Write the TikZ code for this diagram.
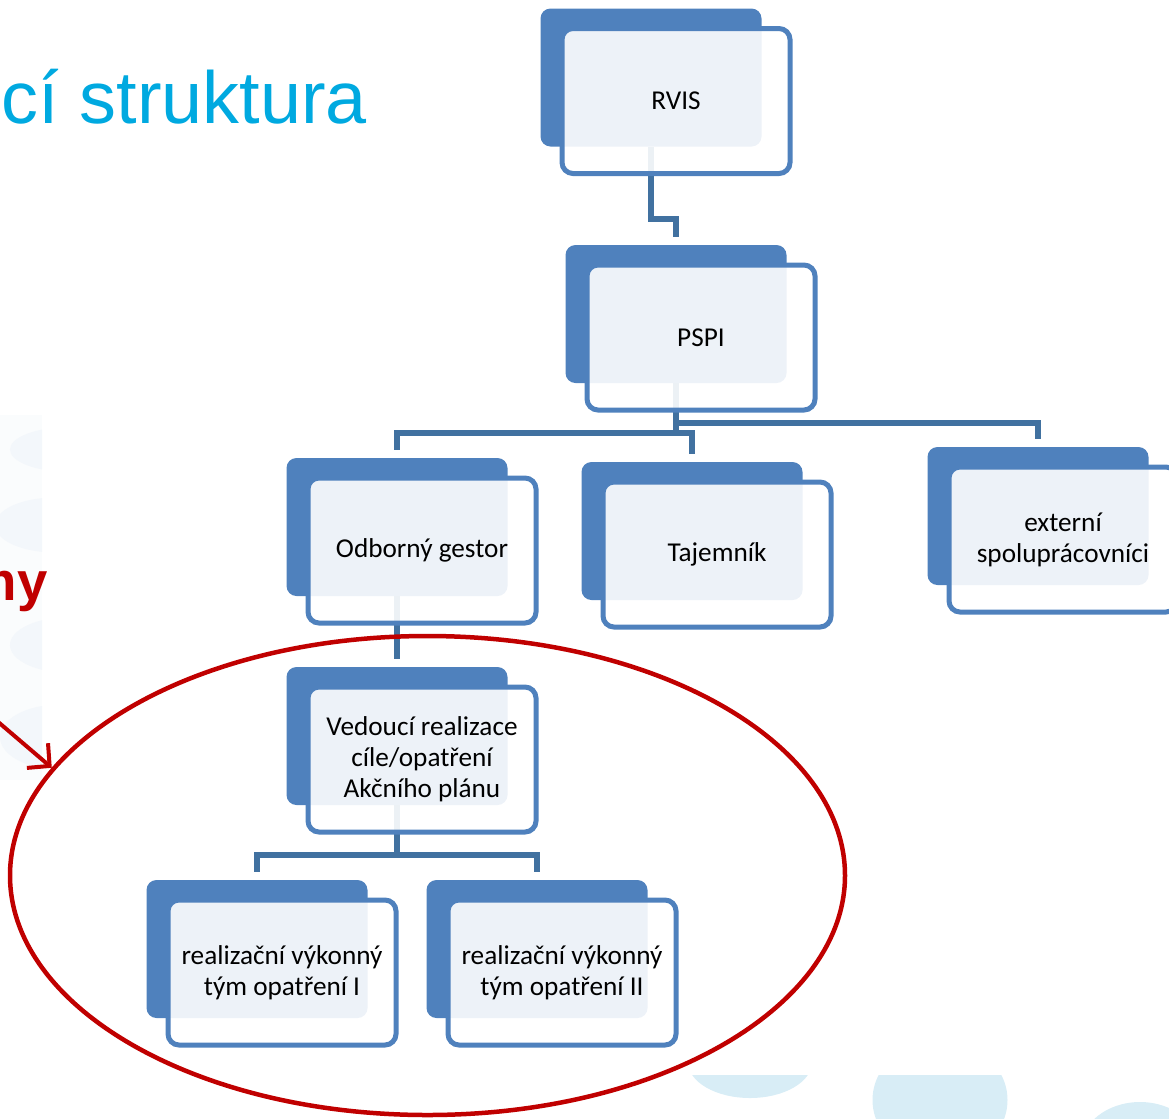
\documentclass[tikz,border=0pt]{standalone}
\usepackage{fontspec}
\usepackage{tikz}
\usetikzlibrary{shapes.geometric,arrows.meta}
\newfontfamily\boxfont{Carlito}
\newfontfamily\slidefont{Liberation Sans}
\definecolor{boxblue}{RGB}{79,129,189}
\definecolor{linkblue}{RGB}{65,113,160}
\definecolor{markred}{RGB}{192,0,0}
\definecolor{titlecyan}{RGB}{0,169,224}
\definecolor{decolight}{RGB}{216,237,246}
\definecolor{decofaint}{RGB}{243,247,251}
\definecolor{decostrip}{RGB}{250,252,253}

\begin{document}
\begin{tikzpicture}[
		shadowbox/.style={fill=boxblue, rounded corners=0.2cm, minimum width=4.42cm, minimum height=2.76cm, inner sep=0},
		facebox/.style={draw=boxblue, line width=0.1cm, fill=white, fill opacity=0.9, text opacity=1, rounded corners=0.22cm, minimum width=4.56cm, minimum height=2.9cm, inner sep=0, align=center, font=\boxfont\fontsize{15.5}{17.6}\selectfont},
		linkline/.style={draw=linkblue, line width=0.12cm, shorten >=0.16cm},
	]
	\useasboundingbox (0,0) rectangle (23.38,-22.36);
	\begin{scope}
		\clip (0,-8.3) rectangle (0.84,-15.6);
		\fill[decostrip] (0,-8.3) rectangle (0.84,-15.6);
		\fill[decofaint] (1.4,-8.99) ellipse (1.2cm and 0.45cm);
		\fill[decofaint] (1.1,-10.5) ellipse (1.2cm and 0.55cm);
		\fill[decofaint] (1.4,-12.9) ellipse (1.2cm and 0.56cm);
		\fill[decofaint] (1.2,-14.74) ellipse (1.2cm and 0.65cm);
	\end{scope}
	\begin{scope}
		\clip (13.6,-21.5) rectangle (23.38,-22.36);
		\fill[decolight] (15.0,-21.24) ellipse (1.24cm and 0.72cm);
		\fill[decolight] (18.8,-22.0) ellipse (1.35cm and 1.2cm);
		\fill[decolight] (22.8,-23.0) ellipse (1.2cm and 0.96cm);
	\end{scope}

	\node[anchor=base west, inner sep=0, text=titlecyan, font=\slidefont\fontsize{42}{50}\selectfont] (title) at (0.03,-2.46) {cí struktura};
	\node[anchor=base east, inner sep=0, text=markred, font=\slidefont\bfseries\fontsize{31}{37}\selectfont] (teams) at (0.96,-12.0) {my};

	\node[shadowbox] (rvis-bg) at (13.02,-1.55) {};
	\node[shadowbox] (pspi-bg) at (13.52,-6.28) {};
	\node[shadowbox] (gestor-bg) at (7.94,-10.54) {};
	\node[shadowbox] (tajemnik-bg) at (13.84,-10.62) {};
	\node[shadowbox] (externi-bg) at (20.76,-10.32) {};
	\node[shadowbox] (vedouci-bg) at (7.94,-14.72) {};
	\node[shadowbox] (tym1-bg) at (5.14,-18.98) {};
	\node[shadowbox] (tym2-bg) at (10.74,-18.98) {};

	\draw[linkline] (rvis-bg.south) -- ++(0,-1.45) -| (pspi-bg.north);
	\draw[linkline] (pspi-bg.south) -- ++(0,-0.8) -| (externi-bg.north);
	\draw[linkline] (pspi-bg.south) -- ++(0,-1.0) -| (gestor-bg.north);
	\draw[linkline] (pspi-bg.south) -- ++(0,-1.0) -| (tajemnik-bg.north);
	\draw[linkline] (gestor-bg.south) -- (vedouci-bg.north);
	\draw[linkline] (vedouci-bg.south) -- ++(0,-1.0) -| (tym1-bg.north);
	\draw[linkline] (vedouci-bg.south) -- ++(0,-1.0) -| (tym2-bg.north);

	\node[facebox] (rvis) at ([shift={(0.5,-0.47)}]rvis-bg) {RVIS};
	\node[facebox] (pspi) at ([shift={(0.5,-0.47)}]pspi-bg) {PSPI};
	\node[facebox] (gestor) at ([shift={(0.5,-0.47)}]gestor-bg) {Odborný gestor};
	\node[facebox] (tajemnik) at ([shift={(0.5,-0.47)}]tajemnik-bg) {Tajemník};
	\node[facebox] (externi) at ([shift={(0.5,-0.47)}]externi-bg) {externí\\spolupr\'acovníci};
	\node[facebox] (vedouci) at ([shift={(0.5,-0.47)}]vedouci-bg) {Vedoucí realizace\\cíle/opatření\\Akčního plánu};
	\node[facebox] (tym1) at ([shift={(0.5,-0.47)}]tym1-bg) {realizační výkonný\\tým opatření I};
	\node[facebox] (tym2) at ([shift={(0.5,-0.47)}]tym2-bg) {realizační výkonný\\tým opatření II};

	\node[ellipse, draw=markred, line width=0.09cm, minimum width=16.7cm, minimum height=9.58cm, inner sep=0] (oval) at (8.55,-17.51) {};
	\coordinate (tail) at (-0.2,-14.3);
	\draw[markred, line width=0.08cm, -{Straight Barb[length=0.32cm, width=0.65cm]}] (tail) -- (oval.164);
\end{tikzpicture}
\end{document}
